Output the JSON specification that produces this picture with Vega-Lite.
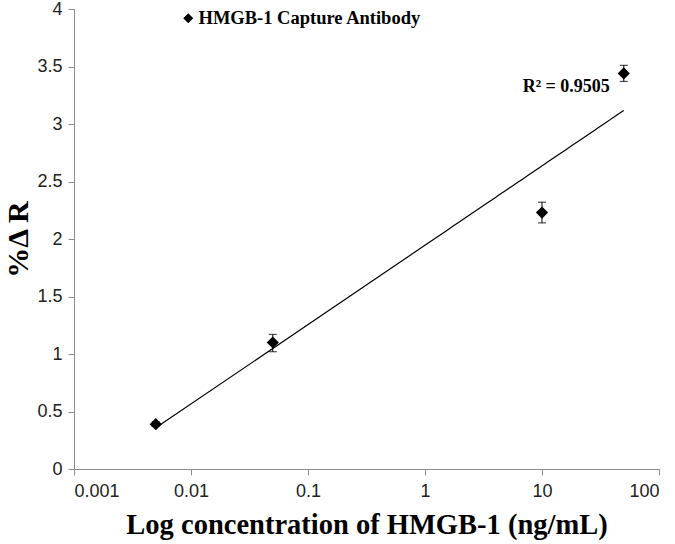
{
  "$schema": "https://vega.github.io/schema/vega-lite/v6.json",
  "width": 585,
  "height": 460,
  "autosize": "none",
  "padding": {"left": 74, "top": 9, "right": 16, "bottom": 75},
  "background": "white",
  "config": {"view": {"stroke": null}},
  "datasets": {
    "pts": [
      {"conc": 0.005, "dr": 0.39, "lo": 0.37, "hi": 0.41, "series": "HMGB-1 Capture Antibody"},
      {"conc": 0.05, "dr": 1.1, "lo": 1.02, "hi": 1.17, "series": "HMGB-1 Capture Antibody"},
      {"conc": 10, "dr": 2.23, "lo": 2.14, "hi": 2.32, "series": "HMGB-1 Capture Antibody"},
      {"conc": 50, "dr": 3.44, "lo": 3.37, "hi": 3.51, "series": "HMGB-1 Capture Antibody"}
    ]
  },
  "data": {"name": "pts"},
  "layer": [
    {
      "transform": [{"regression": "dr", "on": "conc", "method": "log", "extent": [0.005, 50]}],
      "mark": {"type": "line", "color": "black", "strokeWidth": 1.2},
      "encoding": {
        "x": {"field": "conc", "type": "quantitative"},
        "y": {"field": "dr", "type": "quantitative"}
      }
    },
    {
      "mark": {"type": "rule", "color": "black", "strokeWidth": 1},
      "encoding": {
        "x": {"field": "conc", "type": "quantitative"},
        "y": {"field": "lo", "type": "quantitative"},
        "y2": {"field": "hi"}
      }
    },
    {
      "mark": {"type": "tick", "orient": "horizontal", "color": "black", "size": 8, "thickness": 1.2},
      "encoding": {
        "x": {"field": "conc", "type": "quantitative"},
        "y": {"field": "lo", "type": "quantitative"}
      }
    },
    {
      "mark": {"type": "tick", "orient": "horizontal", "color": "black", "size": 8, "thickness": 1.2},
      "encoding": {
        "x": {"field": "conc", "type": "quantitative"},
        "y": {"field": "hi", "type": "quantitative"}
      }
    },
    {
      "mark": {"type": "point", "filled": true, "color": "black", "size": 150, "opacity": 1},
      "encoding": {
        "x": {
          "field": "conc", "type": "quantitative",
          "scale": {"type": "log", "domain": [0.001, 100], "nice": false},
          "axis": {
            "values": [0.001, 0.01, 0.1, 1, 10, 100],
            "format": "~g",
            "grid": false,
            "domainColor": "#8c8c8c",
            "tickColor": "#8c8c8c",
            "tickSize": 6,
            "labelFont": "Liberation Sans",
            "labelFontSize": 18,
            "labelColor": "#222222",
            "labelPadding": 7,
            "title": "Log concentration of HMGB-1 (ng/mL)",
            "titleFont": "Liberation Serif",
            "titleFontWeight": "bold",
            "titleFontSize": 28.5,
            "titleColor": "black",
            "titlePadding": 10
          }
        },
        "y": {
          "field": "dr", "type": "quantitative",
          "scale": {"domain": [0, 4], "nice": false, "zero": true},
          "axis": {
            "values": [0, 0.5, 1, 1.5, 2, 2.5, 3, 3.5, 4],
            "format": "~g",
            "grid": false,
            "domainColor": "#8c8c8c",
            "tickColor": "#8c8c8c",
            "tickSize": 6,
            "labelFont": "Liberation Sans",
            "labelFontSize": 18,
            "labelColor": "#222222",
            "labelPadding": 6,
            "title": "%Δ R",
            "titleFont": "Liberation Serif",
            "titleFontWeight": "bold",
            "titleFontSize": 30,
            "titleColor": "black",
            "titlePadding": 3
          }
        },
        "shape": {
          "field": "series", "type": "nominal",
          "scale": {"range": ["diamond"]},
          "legend": {
            "title": null,
            "orient": "none",
            "legendX": 105,
            "legendY": 0,
            "symbolFillColor": "black",
            "symbolStrokeColor": "black",
            "symbolStrokeWidth": 0,
            "symbolSize": 100,
            "labelFont": "Liberation Serif",
            "labelFontWeight": "bold",
            "labelFontSize": 18.5,
            "labelLimit": 0,
            "labelColor": "black",
            "labelOffset": 1,
            "padding": 0
          }
        }
      }
    },
    {
      "data": {"values": [{"label": "R² = 0.9505"}]},
      "mark": {"type": "text", "align": "right", "baseline": "alphabetic", "font": "Liberation Serif", "fontWeight": "bold", "fontSize": 18, "color": "black"},
      "encoding": {
        "x": {"datum": 38, "type": "quantitative"},
        "y": {"datum": 3.28, "type": "quantitative"},
        "text": {"field": "label"}
      }
    }
  ]
}
